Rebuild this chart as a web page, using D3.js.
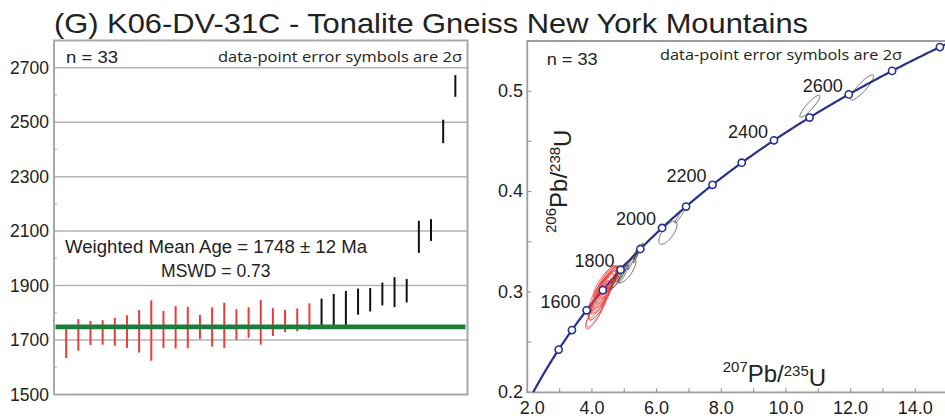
<!DOCTYPE html>
<html>
<head>
<meta charset="utf-8">
<script src="https://cdn.jsdelivr.net/npm/d3@7"></script>
<style>
  body { margin: 0; background: #fff; }
  svg { display: block; }
  text { font-family: "Liberation Sans", Arial, sans-serif; fill: #222; }
  .note { font-family: "Open Sans", "Liberation Sans", sans-serif; }
</style>
</head>
<body>
<svg id="chart" width="945" height="416"></svg>
<script>
// ---- spot ages (Ma) and 2-sigma errors, in plotted order ----
const spotAge   = [1690, 1719, 1726, 1728, 1730, 1731, 1732, 1735, 1739, 1747, 1746,
                   1748, 1748, 1754, 1757, 1764, 1765, 1766, 1770, 1774, 1786,
                   1802, 1811, 1817, 1841, 1848, 1869, 1876, 1881, 2079, 2104, 2466, 2633];
const spotErr   = [56, 58, 44, 45, 51, 60, 78, 111, 68, 78, 76,
                   44, 72, 83, 56, 56, 82, 51, 41, 42, 49,
                   50, 58, 63, 48, 43, 42, 55, 43, 59, 40, 43, 40];
// 1 = included in the weighted mean, 0 = rejected
const spotUsed  = [1,1,1,1,1,1,1,1,1,1,1,1,1,1,1,1,1,1,1,1,1,
                   0,0,0,0,0,0,0,0,0,0,0,0];

// ---- isotope ratios for the concordia diagram (same spot order) ----
const ellX   = [4.06, 4.12, 4.16, 4.22, 4.25, 4.30, 4.34, 4.36, 4.40, 4.44, 4.33,
                4.52, 4.45, 4.40, 4.56, 4.50, 4.28, 4.58, 4.62, 4.18, 4.65,
                4.76, 4.84, 4.92, 5.08, 4.97, 5.25, 5.40, 5.45, 6.35, 6.72, 10.74, 12.35];
const ellY   = [0.276, 0.280, 0.284, 0.288, 0.292, 0.295, 0.298, 0.301, 0.303, 0.306, 0.304,
                0.309, 0.311, 0.310, 0.312, 0.314, 0.300, 0.315, 0.316, 0.290, 0.314,
                0.3135, 0.316, 0.320, 0.321, 0.318, 0.332, 0.338, 0.341, 0.359, 0.376, 0.485, 0.5036];
const ellSX  = [0.26, 0.30, 0.26, 0.32, 0.28, 0.34, 0.30, 0.40, 0.30, 0.34, 0.26,
                0.28, 0.32, 0.36, 0.28, 0.26, 0.38, 0.26, 0.22, 0.30, 0.24,
                0.20, 0.22, 0.20, 0.28, 0.15, 0.14, 0.12, 0.13, 0.28, 0.155, 0.31, 0.36];
const ellSY  = [0.013, 0.015, 0.012, 0.016, 0.013, 0.017, 0.014, 0.020, 0.015, 0.016, 0.011,
                0.012, 0.014, 0.016, 0.013, 0.012, 0.019, 0.011, 0.010, 0.016, 0.011,
                0.011, 0.012, 0.010, 0.012, 0.009, 0.010, 0.009, 0.008, 0.0115, 0.0075, 0.011, 0.0125];
const ellRho = [0.82, 0.84, 0.80, 0.84, 0.80, 0.84, 0.80, 0.85, 0.82, 0.84, 0.78,
                0.80, 0.84, 0.84, 0.80, 0.80, 0.86, 0.78, 0.80, 0.82, 0.78,
                0.90, 0.90, 0.88, 0.75, 0.92, 0.97, 0.97, 0.98, 0.70, 0.96, 0.90, 0.88];

// weighted mean result
const meanAge = 1748, meanErr = 12, mswd = 0.73, nSpots = 33;

// axis ticks
const ageTicks      = [1500, 1700, 1900, 2100, 2300, 2500, 2700];
const ageMinorTicks = [1600, 1800, 2000, 2200, 2400, 2600];
const pb207Ticks    = [2, 4, 6, 8, 10, 12, 14];
const pb207Minor    = [3, 5, 7, 9, 11, 13];
const pb206Ticks    = [0.2, 0.3, 0.4, 0.5];
const pb206Minor    = [0.25, 0.35, 0.45];

// concordia age markers (Ma) and the ones that carry a label
const markerAges = [1400, 1500, 1600, 1700, 1800, 1900, 2000, 2100, 2200, 2300, 2400, 2500, 2600, 2700, 2800];
const labelAges  = [1600, 1800, 2000, 2200, 2400, 2600];

// decay constants (per Ma)
const L238 = 1.55125e-4, L235 = 9.8485e-4;
const conc = t => ({ x: Math.exp(L235 * t) - 1, y: Math.exp(L238 * t) - 1 });

const svg = d3.select("#chart");
const gridCol = "#b3b3b3";
const frameCol = "#a8a8a8";
const blue = "#27308c";

// ---------------- title ----------------
svg.append("text").attr("x", 54).attr("y", 33)
  .attr("textLength", 754).attr("lengthAdjust", "spacingAndGlyphs")
  .style("font-size", "28.5px")
  .text("(G) K06-DV-31C - Tonalite Gneiss New York Mountains");

// ---------------- left panel: weighted mean ----------------
const L = { x0: 54, x1: 467.5, y0: 40.5, y1: 394.5 };
const yAge = d3.scaleLinear().domain([1500, 2800]).range([L.y1, L.y0]);
const xIdx = d3.scaleLinear().domain([0, spotAge.length + 1]).range([L.x0, L.x1]);

const left = svg.append("g");

left.selectAll("line.grid").data(ageTicks.slice(1)).join("line")
  .attr("x1", L.x0).attr("x2", L.x1)
  .attr("y1", d => yAge(d)).attr("y2", d => yAge(d))
  .attr("stroke", gridCol).attr("stroke-width", 1.5);

left.selectAll("line.minor").data(ageMinorTicks).join("line")
  .attr("x1", L.x0).attr("x2", L.x0 + 3)
  .attr("y1", d => yAge(d)).attr("y2", d => yAge(d))
  .attr("stroke", gridCol).attr("stroke-width", 1.2);

left.append("rect")
  .attr("x", L.x0).attr("y", L.y0)
  .attr("width", L.x1 - L.x0).attr("height", L.y1 - L.y0)
  .attr("fill", "none").attr("stroke", frameCol).attr("stroke-width", 2);

left.selectAll("text.tick").data(ageTicks).join("text")
  .attr("x", 49).attr("y", d => yAge(d)).attr("dy", "0.36em")
  .attr("text-anchor", "end").style("font-size", "17.5px")
  .text(d => d);

left.selectAll("line.bar").data(spotAge).join("line")
  .attr("x1", (d, i) => xIdx(i + 1)).attr("x2", (d, i) => xIdx(i + 1))
  .attr("y1", (d, i) => yAge(d - spotErr[i])).attr("y2", (d, i) => yAge(d + spotErr[i]))
  .attr("stroke", (d, i) => spotUsed[i] ? "#f03a3a" : "#111")
  .attr("stroke-width", 2);

left.append("line")
  .attr("x1", L.x0 + 1.5).attr("x2", L.x1 - 2)
  .attr("y1", yAge(meanAge)).attr("y2", yAge(meanAge))
  .attr("stroke", "#1b7c3c").attr("stroke-width", 4.8);

left.append("text").attr("x", 66).attr("y", 62.5)
  .attr("textLength", 52).attr("lengthAdjust", "spacingAndGlyphs")
  .style("font-size", "16.5px").text("n = " + nSpots);
left.append("text").attr("class", "note").attr("x", 462).attr("y", 62.3)
  .attr("text-anchor", "end").attr("textLength", 244).attr("lengthAdjust", "spacingAndGlyphs")
  .style("font-size", "14.5px").text("data-point error symbols are 2σ");

left.append("text").attr("x", 65).attr("y", 252.7)
  .attr("textLength", 302).attr("lengthAdjust", "spacingAndGlyphs")
  .style("font-size", "17.5px")
  .text(`Weighted Mean Age = ${meanAge} ± ${meanErr} Ma`);
left.append("text").attr("x", 215.8).attr("y", 276.7)
  .attr("text-anchor", "middle").style("font-size", "17.5px")
  .text(`MSWD = ${mswd.toFixed(2)}`);

// ---------------- right panel: concordia ----------------
const R = { x0: 527.3, x1: 947.6, y0: 41, y1: 392.3 };
const xR = d3.scaleLinear().domain([2, 15]).range([R.x0, R.x1]);
const yR = d3.scaleLinear().domain([0.2, 0.55]).range([R.y1, R.y0]);

const right = svg.append("g");
right.append("clipPath").attr("id", "concClip").append("rect")
  .attr("x", R.x0).attr("y", R.y0).attr("width", R.x1 - R.x0).attr("height", R.y1 - R.y0);

// inward tick marks
right.selectAll("line.xt").data(pb207Ticks.concat(pb207Minor)).join("line")
  .attr("x1", d => xR(d)).attr("x2", d => xR(d))
  .attr("y1", R.y1).attr("y2", R.y1 - 4)
  .attr("stroke", "#999").attr("stroke-width", 1.2);
right.selectAll("line.yt").data(pb206Ticks.concat(pb206Minor)).join("line")
  .attr("x1", R.x0).attr("x2", R.x0 + 4)
  .attr("y1", d => yR(d)).attr("y2", d => yR(d))
  .attr("stroke", "#999").attr("stroke-width", 1.2);

right.append("path")
  .attr("d", `M${R.x1},${R.y0}H${R.x0}V${R.y1}H${R.x1}`)
  .attr("fill", "none").attr("stroke", "#9e9e9e").attr("stroke-width", 1.8);

right.selectAll("text.xl").data(pb207Ticks).join("text")
  .attr("x", (d, i) => xR(d) + (i === 0 ? 5 : 0)).attr("y", 413.5)
  .attr("text-anchor", "middle").style("font-size", "18px")
  .text(d => d.toFixed(1));
right.selectAll("text.yl").data(pb206Ticks).join("text")
  .attr("x", 523).attr("y", d => yR(d)).attr("dy", "0.33em")
  .attr("text-anchor", "end").style("font-size", "18px")
  .text(d => d.toFixed(1));

const plot = right.append("g").attr("clip-path", "url(#concClip)");

// concordia curve
const curveAges = d3.range(1100, 2901, 5);
plot.append("path")
  .datum(curveAges.map(conc))
  .attr("d", d3.line().x(p => xR(p.x)).y(p => yR(p.y)).curve(d3.curveBasis))
  .attr("fill", "none").attr("stroke", blue).attr("stroke-width", 2.2);

// 2-sigma error ellipses
const thetas = d3.range(0, 2 * Math.PI, Math.PI / 40);
const ellLine = d3.line().curve(d3.curveLinearClosed);
plot.selectAll("path.ell").data(ellX).join("path")
  .attr("d", (cx, i) => ellLine(thetas.map(t => {
    const r = ellRho[i];
    const vx = cx + ellSX[i] * Math.cos(t);
    const vy = ellY[i] + ellSY[i] * (r * Math.cos(t) + Math.sqrt(1 - r * r) * Math.sin(t));
    return [xR(vx), yR(vy)];
  })))
  .attr("fill", "none")
  .attr("stroke", (d, i) => spotUsed[i] ? "#ee3535" : "#3a3a3a")
  .attr("stroke-width", 0.8)
  .attr("stroke-opacity", 0.9);

// age markers
plot.selectAll("circle.mk").data(markerAges).join("circle")
  .attr("cx", t => xR(conc(t).x)).attr("cy", t => yR(conc(t).y))
  .attr("r", 3.6).attr("fill", "#fff").attr("stroke", blue).attr("stroke-width", 1.6);

right.selectAll("text.age").data(labelAges).join("text")
  .attr("x", t => xR(conc(t).x) - 6).attr("y", t => yR(conc(t).y) - 2.5)
  .attr("text-anchor", "end").style("font-size", "18px")
  .text(t => t);

right.append("text").attr("x", 546.7).attr("y", 65)
  .attr("textLength", 51).attr("lengthAdjust", "spacingAndGlyphs")
  .style("font-size", "16.5px").text("n = " + nSpots);
right.append("text").attr("class", "note").attr("x", 660).attr("y", 59.5)
  .attr("textLength", 242).attr("lengthAdjust", "spacingAndGlyphs")
  .style("font-size", "14.5px").text("data-point error symbols are 2σ");

// axis titles with isotope superscripts
function isotopeLabel(g, a, b) {
  const t = g.append("text").style("font-size", "24px");
  t.append("tspan").attr("dy", "-0.45em").style("font-size", "15px").text(a);
  t.append("tspan").attr("dy", "0.45em").text("Pb/");
  t.append("tspan").attr("dy", "-0.45em").style("font-size", "15px").text(b);
  t.append("tspan").attr("dy", "0.45em").text("U");
  return t;
}
isotopeLabel(right.append("g").attr("transform", "translate(722.7,378.3)"), "207", "235");
isotopeLabel(right.append("g").attr("transform", "translate(562.5,233) rotate(-90)"), "206", "238");
</script>
</body>
</html>
